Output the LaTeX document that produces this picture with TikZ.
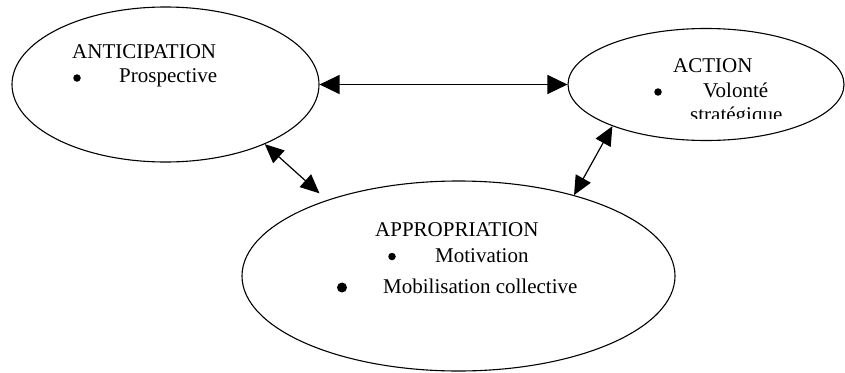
\documentclass[tikz,border=0pt]{standalone}
\usepackage{fontspec}
\setmainfont{Liberation Serif}
\usetikzlibrary{shapes.geometric,arrows.meta}
\begin{document}
\begin{tikzpicture}[x=1pt,y=-1pt,
  bubble/.style={draw,ellipse,inner sep=0pt,line width=1.1pt},
  txt/.style={anchor=base west,inner sep=0pt,font=\fontsize{21}{25}\selectfont},
  bul/.style={circle,fill,inner sep=0pt,minimum size=7.5pt},
  bigbul/.style={circle,fill,inner sep=0pt,minimum size=10pt},
  link/.style={line width=1.2pt,{Triangle[length=20pt,width=19pt]}-{Triangle[length=20pt,width=19pt]}},
  slink/.style={line width=1.2pt,{Triangle[length=19pt,width=17pt]}-{Triangle[length=19pt,width=17pt]}}]
\useasboundingbox (0,0) rectangle (845,372);
\node[bubble,minimum width=307pt,minimum height=155pt] (L) at (165.5,84.5) {};
\node[bubble,minimum width=276pt,minimum height=112pt] (R) at (706,84.5) {};
\node[bubble,minimum width=433pt,minimum height=190pt] (B) at (458.5,276) {};
% texts
\node[txt] (t1) at (72,58) {ANTICIPATION};
\node[bul] (b1) at (77,78) {};
\node[txt] (t2) at (119,82) {Prospective};
\node[txt] (t3) at (673,72) {ACTION};
\node[bul] (b2) at (658,92) {};
\node[txt] (t4) at (703,97) {Volonté};
\begin{scope}
\clip (680,100) rectangle (800,118.3);
\node[txt] (t5) at (690,121) {stratégique};
\end{scope}
\node[txt] (t6) at (375,236) {APPROPRIATION};
\node[bul] (b3) at (392,256.5) {};
\node[txt] (t7) at (435,262) {Motivation};
\node[bigbul] (b4) at (342,287.5) {};
\node[txt] (t8) at (383,293) {Mobilisation collective};
% connectors
\draw[link] (L.east) -- (R.west);
\draw[slink,shorten >=10pt] (L.-31) -- (B.150);
\draw[slink] (R.204) -- (B.35);
\end{tikzpicture}
\end{document}
